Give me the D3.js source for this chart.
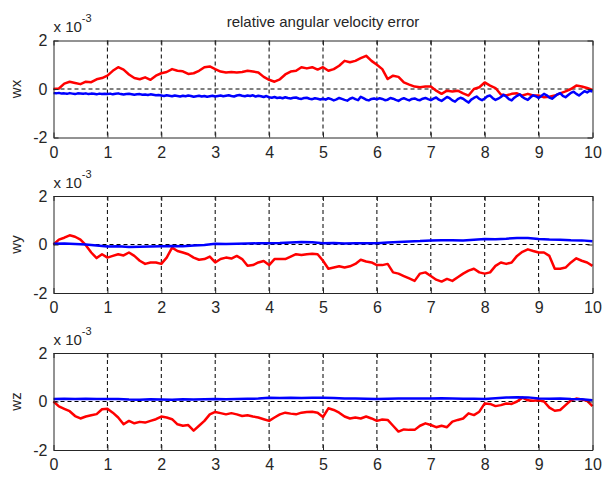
<!DOCTYPE html>
<html>
<head>
<meta charset="utf-8">
<script src="https://cdn.jsdelivr.net/npm/d3@7"></script>
<style>
body { margin: 0; background: #fff; }
svg { display: block; font-family: Arial, "Liberation Sans", sans-serif; }
</style>
</head>
<body>
<div id="container"></div>
<script>
// data we work with (values in units of 1e-3)
let panelNames = ["wx", "wy", "wz"];
let titleText = "relative angular velocity error";
let xTicks = [0, 1, 2, 3, 4, 5, 6, 7, 8, 9, 10];
let yTicks = [-2, 0, 2];
let yTickLabels = ["-2", "0", "2"];

// red series, sampled every 0.1 s
let redWx = [
  0, 0.02, 0.22, 0.3, 0.25, 0.2, 0.3, 0.28, 0.4, 0.45,
  0.55, 0.75, 0.9, 0.8, 0.6, 0.45, 0.4, 0.48, 0.38, 0.55,
  0.65, 0.7, 0.82, 0.75, 0.73, 0.62, 0.65, 0.75, 0.9, 0.93,
  0.82, 0.72, 0.68, 0.7, 0.68, 0.7, 0.75, 0.72, 0.68, 0.5,
  0.38, 0.3, 0.4, 0.6, 0.72, 0.75, 0.9, 0.85, 0.9, 0.8,
  0.9, 0.75, 0.82, 0.96, 1.16, 1.1, 1.16, 1.27, 1.37, 1.16,
  1.0, 0.82, 0.41, 0.55, 0.5, 0.27, 0.18, 0.1, 0.07, 0.1,
  0.1, -0.07, -0.2, -0.07, -0.1, -0.07, -0.18, -0.27, 0, 0.07,
  0.27, 0.14, 0.04, -0.23, -0.27, -0.2, -0.18, -0.27, -0.2, -0.27,
  -0.27, -0.34, -0.32, -0.27, -0.18, -0.1, 0, 0.14, 0.1, 0.04,
  -0.04
];
let redWy = [
  0, 0.2, 0.28, 0.38, 0.32, 0.2, -0.03, -0.33, -0.56, -0.4,
  -0.54, -0.47, -0.4, -0.45, -0.33, -0.47, -0.67, -0.8, -0.74, -0.74,
  -0.8, -0.54, -0.13, -0.27, -0.33, -0.4, -0.54, -0.63, -0.6, -0.5,
  -0.74, -0.6, -0.54, -0.58, -0.47, -0.6, -0.88, -0.85, -0.74, -0.68,
  -0.85, -0.6, -0.6, -0.6, -0.5, -0.4, -0.43, -0.4, -0.38, -0.4,
  -0.67, -1.0, -0.95, -0.9, -0.95, -0.9, -0.8, -0.63, -0.7, -0.74,
  -0.85, -0.85, -0.8, -1.15, -1.2, -1.3, -1.4, -1.5, -1.2, -1.15,
  -1.3, -1.45, -1.53, -1.42, -1.5, -1.35, -1.2, -1.08, -1.0, -1.15,
  -1.2, -1.15, -0.88, -0.74, -0.8, -0.74, -0.47, -0.3, -0.2, -0.27,
  -0.33, -0.33, -0.47, -1.0, -1.0, -0.95, -0.74, -0.57, -0.67, -0.74,
  -0.88
];
let redWz = [
  0, -0.2, -0.3, -0.4, -0.6, -0.7, -0.62, -0.57, -0.52, -0.32,
  -0.3, -0.46, -0.66, -0.94, -0.8, -0.9, -0.84, -0.87, -0.8, -0.73,
  -0.62, -0.66, -0.73, -0.94, -1.0, -0.97, -1.2, -1.0, -0.8, -0.53,
  -0.43, -0.48, -0.53, -0.48, -0.53, -0.6, -0.57, -0.62, -0.66, -0.73,
  -0.8, -0.66, -0.53, -0.46, -0.5, -0.53, -0.46, -0.43, -0.42, -0.46,
  -0.64, -0.28, -0.35, -0.46, -0.62, -0.7, -0.66, -0.7, -0.62, -0.7,
  -0.8, -0.74, -0.76, -1.0, -1.24, -1.15, -1.17, -1.17, -1.0, -0.9,
  -0.97, -1.06, -1.0, -1.06, -0.83, -0.76, -0.7, -0.49, -0.56, -0.42,
  -0.08, -0.1, -0.19, -0.15, -0.08, -0.1, 0, 0.16, 0.05, 0.03,
  0.05, 0, -0.25, -0.38, -0.35, -0.15, 0.05, 0.12, 0.08, 0.03,
  -0.19
];

// blue wx is noisy, sampled every 0.05 s
let blueWx = [
  -0.17, -0.18, -0.16, -0.19, -0.18, -0.20, -0.17, -0.19, -0.21, -0.18, -0.19, -0.20, -0.18, -0.21, -0.19, -0.20, -0.22, -0.19, -0.21, -0.20,
  -0.21, -0.19, -0.22, -0.20, -0.18, -0.21, -0.23, -0.21, -0.20, -0.22, -0.24, -0.22, -0.21, -0.24, -0.23, -0.25, -0.22, -0.24, -0.26, -0.25,
  -0.27, -0.29, -0.26, -0.28, -0.30, -0.27, -0.29, -0.31, -0.28, -0.30, -0.27, -0.29, -0.32, -0.30, -0.28, -0.31, -0.29, -0.32, -0.30, -0.28,
  -0.31, -0.29, -0.27, -0.30, -0.28, -0.26, -0.29, -0.31, -0.27, -0.25, -0.28, -0.30, -0.27, -0.29, -0.26, -0.31, -0.28, -0.30, -0.33, -0.29,
  -0.34, -0.36, -0.33, -0.37, -0.35, -0.38, -0.34, -0.37, -0.39, -0.36, -0.35, -0.39, -0.41, -0.37, -0.36, -0.40, -0.42, -0.38, -0.40, -0.43,
  -0.40, -0.44, -0.38, -0.42, -0.47, -0.43, -0.37, -0.41, -0.45, -0.48, -0.40, -0.36, -0.42, -0.46, -0.32, -0.38, -0.44, -0.47, -0.41, -0.39,
  -0.43, -0.38, -0.41, -0.46, -0.44, -0.37, -0.40, -0.45, -0.49, -0.42, -0.38, -0.43, -0.47, -0.41, -0.39, -0.44, -0.46, -0.40, -0.37, -0.42,
  -0.46, -0.40, -0.35, -0.44, -0.49, -0.41, -0.33, -0.38, -0.47, -0.52, -0.42, -0.36, -0.40, -0.48, -0.56, -0.44, -0.37, -0.31, -0.41, -0.46,
  -0.39, -0.30, -0.27, -0.38, -0.45, -0.40, -0.33, -0.24, -0.31, -0.42, -0.47, -0.36, -0.28, -0.22, -0.33, -0.40, -0.45, -0.34, -0.26, -0.30,
  -0.37, -0.29, -0.20, -0.26, -0.35, -0.40, -0.31, -0.22, -0.17, -0.28, -0.34, -0.25, -0.16, -0.11, -0.20, -0.27, -0.18, -0.09, -0.14, -0.07,
  -0.10
];
// blue wy / wz are smooth, sampled every 0.2 s
let blueWy = [
  0.03, 0.04, 0.02, 0.0, -0.04, -0.08, -0.07, -0.1, -0.09, -0.08,
  -0.07, -0.06, -0.07, -0.04, -0.02, 0.03, 0.02, 0.03, 0.04, 0.05,
  0.05, 0.06, 0.08, 0.1, 0.09, 0.05, 0.06, 0.04, 0.05, 0.05,
  0.05, 0.08, 0.1, 0.12, 0.14, 0.17, 0.18, 0.18, 0.17, 0.2,
  0.23, 0.22, 0.24, 0.27, 0.27, 0.23, 0.21, 0.2, 0.18, 0.17,
  0.13
];
let blueWz = [
  0.1, 0.11, 0.1, 0.11, 0.1, 0.1, 0.1, 0.08, 0.07, 0.09,
  0.08, 0.07, 0.09, 0.08, 0.09, 0.1, 0.09, 0.1, 0.11, 0.12,
  0.15, 0.14, 0.15, 0.14, 0.15, 0.15, 0.14, 0.12, 0.12, 0.11,
  0.1, 0.11, 0.12, 0.12, 0.12, 0.12, 0.13, 0.12, 0.11, 0.11,
  0.1, 0.13, 0.16, 0.18, 0.17, 0.12, 0.11, 0.12, 0.1, 0.09,
  0.05
];

let reds = [redWx, redWy, redWz];
let blues = [blueWx, blueWy, blueWz];

// layout
let w = 612;
let h = 477;
let left = 53.5;
let right = 592.5;
let tops = [40.5, 196, 353];
let panelH = 97;

let viz = d3.select("#container")
  .append("svg")
    .attr("width", w)
    .attr("height", h);

let xScale = d3.scaleLinear().domain([0, 10]).range([left, right]);

// turn an array of samples over 0..10 s into points
function toPoints(arr) {
  let step = 10 / (arr.length - 1);
  return arr.map(function(v, i) { return [i * step, v]; });
}

panelNames.forEach(function(name, p) {
  let top = tops[p];
  let bottom = top + panelH;
  let yScale = d3.scaleLinear().domain([-2, 2]).range([bottom, top]);
  let g = viz.append("g").attr("class", "panel");

  // dashed grid
  g.selectAll(".vgrid").data(xTicks.slice(1, -1)).enter()
    .append("line")
      .attr("x1", function(d) { return xScale(d); })
      .attr("x2", function(d) { return xScale(d); })
      .attr("y1", top).attr("y2", bottom)
      .attr("stroke", "#000")
      .attr("stroke-width", 1)
      .attr("stroke-dasharray", "4,3");
  g.selectAll(".hgrid").data(yTicks.slice(1, -1)).enter()
    .append("line")
      .attr("x1", left).attr("x2", right)
      .attr("y1", function(d) { return yScale(d); })
      .attr("y2", function(d) { return yScale(d); })
      .attr("stroke", "#000")
      .attr("stroke-width", 1)
      .attr("stroke-dasharray", "4,3");

  let line = d3.line()
    .x(function(d) { return xScale(d[0]); })
    .y(function(d) { return yScale(d[1]); });

  g.append("path")
    .attr("d", line(toPoints(reds[p])))
    .attr("fill", "none")
    .attr("stroke", "#ff0000")
    .attr("stroke-width", 2.5)
    .attr("stroke-linejoin", "round");
  g.append("path")
    .attr("d", line(toPoints(blues[p])))
    .attr("fill", "none")
    .attr("stroke", "#0000ff")
    .attr("stroke-width", 2.5)
    .attr("stroke-linejoin", "round");

  // axes
  let xAxis = d3.axisBottom(xScale).tickValues(xTicks).tickSize(-5).tickSizeOuter(0).tickPadding(9)
    .tickFormat(function(d) { return String(d); });
  let xAxisGroup = g.append("g").attr("transform", "translate(0," + bottom + ")").call(xAxis);
  let xTop = d3.axisTop(xScale).tickValues(xTicks).tickSize(-5).tickSizeOuter(0).tickFormat("");
  let xTopGroup = g.append("g").attr("transform", "translate(0," + top + ")").call(xTop);

  let yAxis = d3.axisLeft(yScale).tickValues(yTicks).tickSize(-5).tickSizeOuter(0).tickPadding(6)
    .tickFormat(function(d, i) { return yTickLabels[i]; });
  let yAxisGroup = g.append("g").attr("transform", "translate(" + left + ",0)").call(yAxis);
  let yRight = d3.axisRight(yScale).tickValues(yTicks).tickSize(-5).tickSizeOuter(0).tickFormat("");
  let yRightGroup = g.append("g").attr("transform", "translate(" + right + ",0)").call(yRight);

  [xAxisGroup, xTopGroup, yAxisGroup, yRightGroup].forEach(function(ag) {
    ag.select(".domain").attr("stroke", "#262626");
    ag.selectAll(".tick line").attr("stroke", "#262626");
    ag.selectAll("text")
      .attr("fill", "#262626")
      .attr("font-size", 16)
      .attr("font-family", "Arial, 'Liberation Sans', sans-serif");
  });

  // exponent label
  let expo = g.append("text")
    .attr("x", left)
    .attr("y", top - 8.5)
    .attr("font-size", 15)
    .attr("fill", "#262626");
  expo.append("tspan").text("x 10");
  expo.append("tspan").attr("dy", -10).attr("font-size", 11).text("-3");

  // y label
  g.append("text")
    .attr("transform", "translate(21," + (top + panelH / 2) + ") rotate(-90)")
    .attr("text-anchor", "middle")
    .attr("font-size", 15)
    .attr("fill", "#262626")
    .text(name);
});

// title
viz.append("text")
  .attr("x", (left + right) / 2)
  .attr("y", 27)
  .attr("text-anchor", "middle")
  .attr("font-size", 15)
  .attr("fill", "#262626")
  .text(titleText);
</script>
</body>
</html>
